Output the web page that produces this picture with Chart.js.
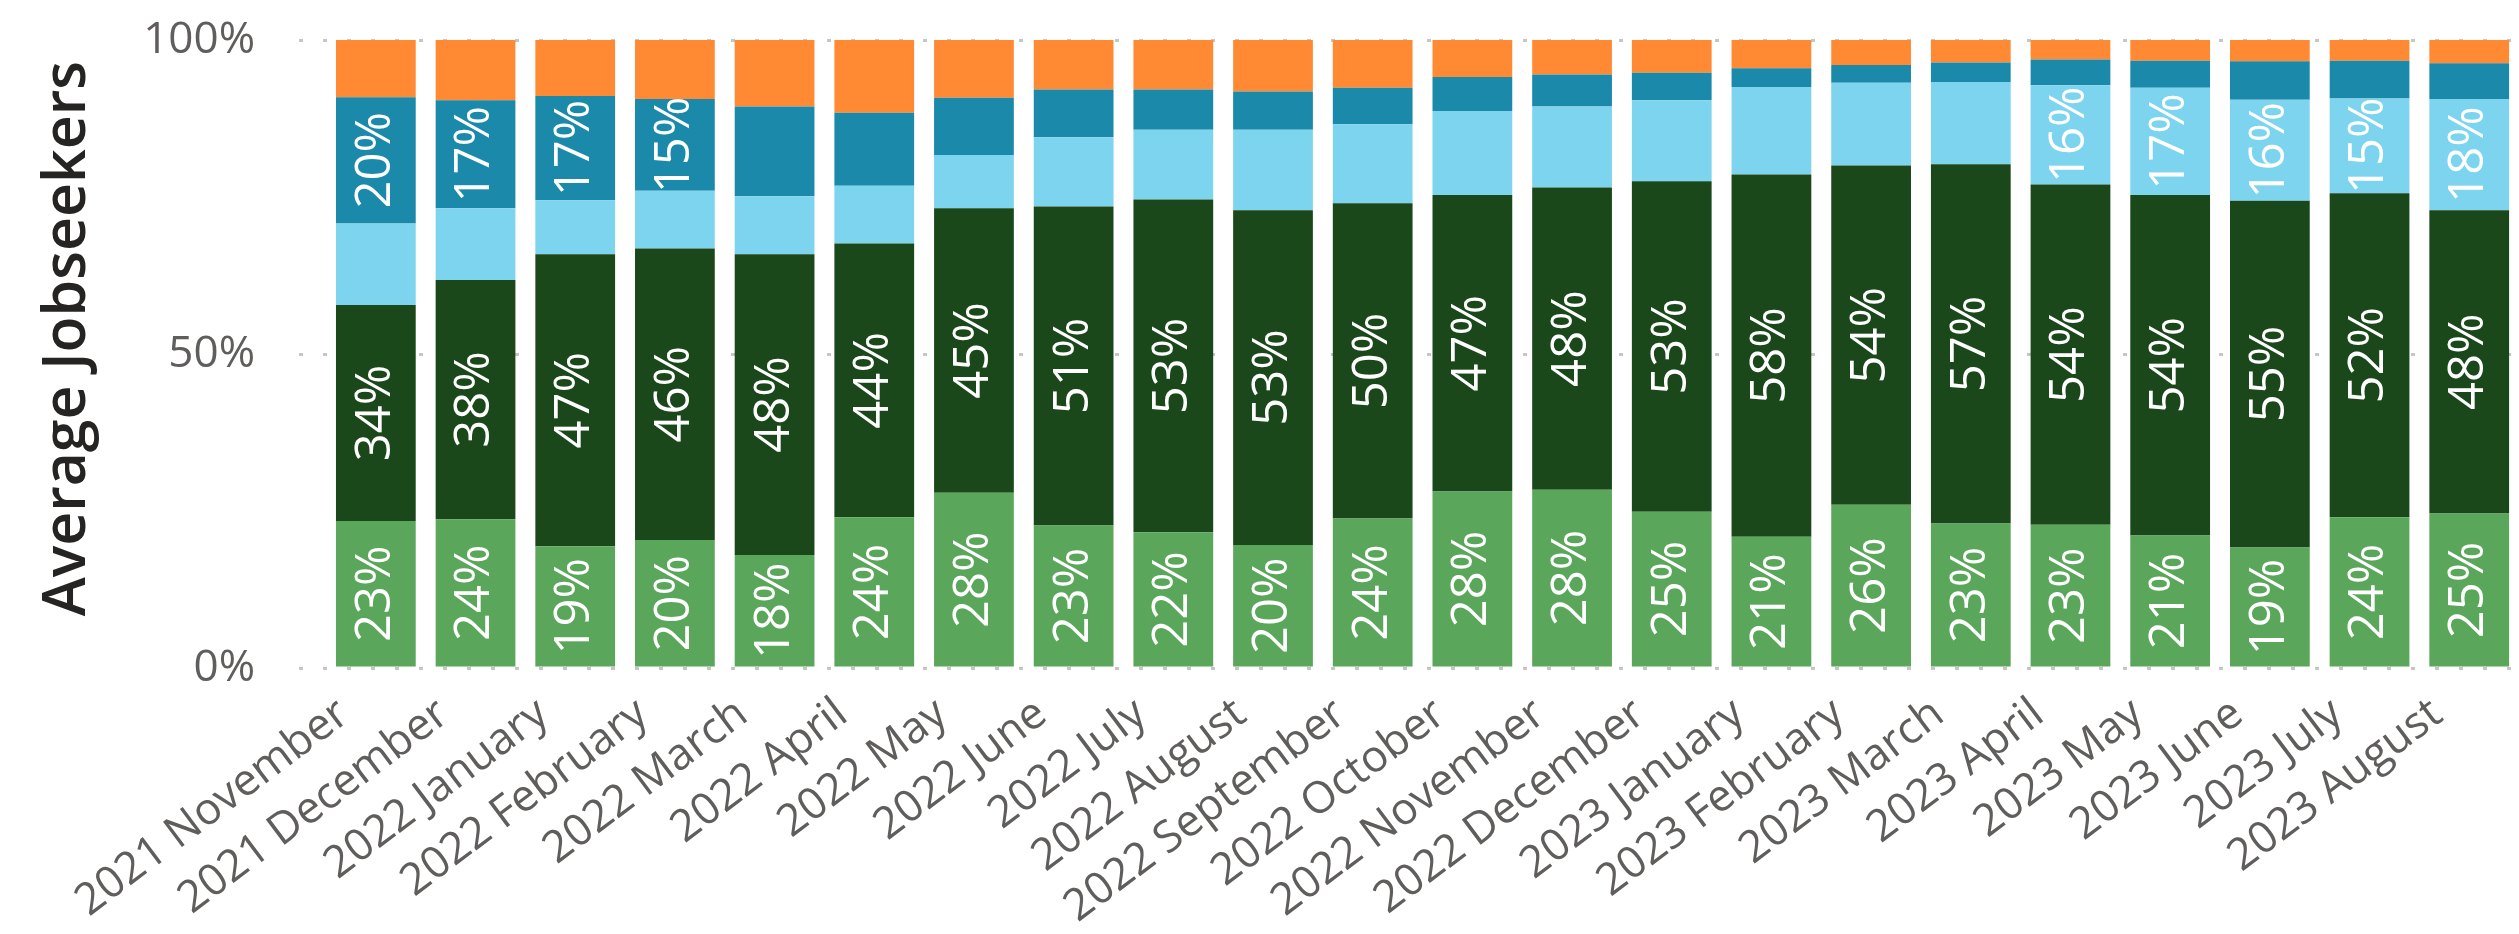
<!DOCTYPE html>
<html lang="en">
<head>
    <meta charset="UTF-8">
    <script src="https://cdn.jsdelivr.net/npm/chart.js@4/dist/chart.umd.min.js"></script>
    <title>Average Jobseekers</title>
    <style>
        html, body { margin: 0; padding: 0; background: #ffffff; overflow: hidden; }
        canvas { display: block; }
    </style>
</head>
<body>
    <canvas id="grafico1" width="2521" height="934"></canvas>
</body>
<script>
    // months on the x axis
    var mesi = [
        '2021 November', '2021 December', '2022 January', '2022 February', '2022 March',
        '2022 April', '2022 May', '2022 June', '2022 July', '2022 August', '2022 September',
        '2022 October', '2022 November', '2022 December', '2023 January', '2023 February',
        '2023 March', '2023 April', '2023 May', '2023 June', '2023 July', '2023 August'
    ];

    // shares (%) per segment, bottom to top of each bar
    var verdeChiaro = [23.4, 23.7, 19.4, 20.4, 18.0, 24.0, 27.9, 22.7, 21.6, 19.6, 23.8,
                       28.1, 28.4, 24.9, 20.9, 26.0, 23.0, 22.8, 21.1, 19.2, 24.0, 24.6];
    var verdeScuro  = [34.4, 38.1, 46.5, 46.4, 47.9, 43.6, 45.3, 50.8, 53.0, 53.3, 50.2,
                       47.2, 48.1, 52.6, 57.7, 54.0, 57.2, 54.2, 54.2, 55.2, 51.6, 48.3];
    var azzurro     = [13.0, 11.4, 8.6, 9.2, 9.2, 9.2, 8.5, 11.0, 11.1, 12.8, 12.6,
                       13.4, 12.9, 12.9, 13.9, 13.2, 13.1, 15.8, 17.1, 16.1, 15.1, 17.7];
    var blu         = [20.1, 17.2, 16.6, 14.6, 14.3, 11.6, 9.1, 7.6, 6.4, 6.1, 5.8,
                       5.4, 5.1, 4.4, 3.0, 2.8, 3.1, 4.1, 4.3, 6.1, 6.0, 5.7];
    var arancione   = [9.1, 9.6, 8.9, 9.4, 10.6, 11.6, 9.2, 7.9, 7.9, 8.2, 7.6,
                       5.9, 5.5, 5.2, 4.5, 4.0, 3.6, 3.1, 3.3, 3.4, 3.3, 3.7];

    // y ticks
    var tickY = [0, 50, 100];

    var FONT = "'Segoe UI', 'Open Sans', sans-serif";
    var grigioGriglia = '#c8c6c4';

    // etichette bianche ruotate dentro i segmenti (solo se ci stanno)
    var etichette = {
        id: 'etichette',
        afterDatasetsDraw: function(chart) {
            var ctx = chart.ctx;
            ctx.save();
            ctx.fillStyle = '#ffffff';
            ctx.font = '49px ' + FONT;
            ctx.textAlign = 'center';
            ctx.textBaseline = 'middle';
            chart.data.datasets.forEach(function(ds, i) {
                var meta = chart.getDatasetMeta(i);
                meta.data.forEach(function(bar, j) {
                    var v = ds.data[j];
                    if (v < 14.5) return;
                    var cy = (bar.y + bar.base) / 2;
                    ctx.save();
                    ctx.translate(bar.x, cy);
                    ctx.rotate(-Math.PI / 2);
                    ctx.fillText(Math.round(v) + '%', 0, 0);
                    ctx.restore();
                });
            });
            ctx.restore();
        }
    };

    var data = {
        labels: mesi,
        datasets: [
            { label: 'Segment 1', data: verdeChiaro, backgroundColor: '#5AA65A' },
            { label: 'Segment 2', data: verdeScuro,  backgroundColor: '#1A481A' },
            { label: 'Segment 3', data: azzurro,     backgroundColor: '#7CD4EE' },
            { label: 'Segment 4', data: blu,         backgroundColor: '#1B89AA' },
            { label: 'Segment 5', data: arancione,   backgroundColor: '#FF8A33' }
        ]
    };

    var options = {
        responsive: false,
        animation: false,
        barPercentage: 0.8,
        categoryPercentage: 1.0,
        layout: { padding: { top: 40, left: 0, right: 0, bottom: 0 } },
        plugins: {
            legend: { display: false },
            tooltip: { enabled: false }
        },
        scales: {
            x: {
                stacked: true,
                grid: { display: false, drawTicks: false },
                border: { display: false },
                ticks: {
                    autoSkip: false,
                    minRotation: 37,
                    maxRotation: 37,
                    padding: 20,
                    labelOffset: -32,
                    color: '#605e5c',
                    font: { family: FONT, size: 44 }
                },
                afterFit: function(scale) { scale.height = 266; }
            },
            y: {
                stacked: true,
                min: 0,
                max: 100,
                afterBuildTicks: function(scale) {
                    scale.ticks = tickY.map(function(v) { return { value: v }; });
                },
                grid: {
                    color: grigioGriglia,
                    lineWidth: 3,
                    drawTicks: true,
                    tickLength: 27,
                    tickColor: grigioGriglia,
                    tickWidth: 3,
                    tickBorderDash: [4, 20]
                },
                // in v4 il tratteggio della griglia sta in border.dash
                border: { display: false, dash: [4, 20], dashOffset: 3 },
                ticks: {
                    padding: 44,
                    color: '#605e5c',
                    font: { family: FONT, size: 44 },
                    callback: function(v) { return v + '%'; }
                },
                title: {
                    display: true,
                    text: '\u00A0\u00A0Average Jobseekers',
                    color: '#252423',
                    font: { family: FONT, size: 59, weight: '600' },
                    padding: { top: 33, bottom: 0 }
                },
                afterFit: function(scale) {
                    scale.width = 326;
                    // niente spazio extra sopra/sotto dovuto al padding delle etichette
                    scale.paddingTop = 0;
                    scale.paddingBottom = 0;
                }
            }
        }
    };

    var config = { type: 'bar', data: data, options: options, plugins: [etichette] };
    var myChart = new Chart('grafico1', config);
</script>
</html>
